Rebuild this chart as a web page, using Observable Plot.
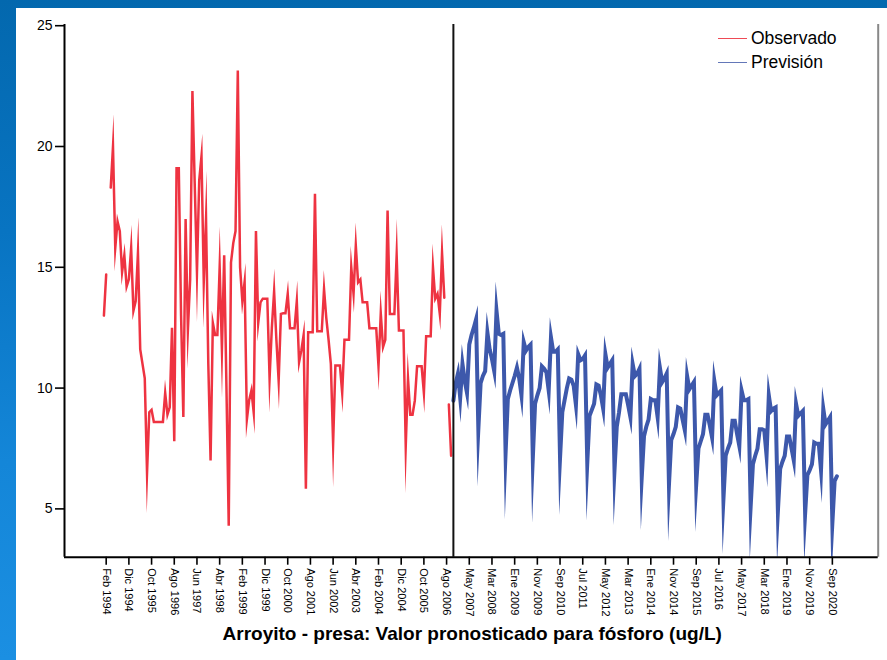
<!DOCTYPE html>
<html lang="es">
<head>
<meta charset="utf-8">
<title>Arroyito - presa: fósforo</title>
<script src="https://cdn.jsdelivr.net/npm/d3@7"></script>
<script src="https://cdn.jsdelivr.net/npm/@observablehq/plot@0.6"></script>
<style>
  html, body { margin: 0; padding: 0; overflow: hidden; }
  body {
    width: 887px; height: 660px; position: relative;
    font-family: Arial, "Liberation Sans", sans-serif;
    background: linear-gradient(to bottom, #0368ae 0%, #0874c2 35%, #1486d8 70%, #1b8fe2 100%);
  }
  #panel {
    position: absolute; left: 16px; top: 8px; width: 871px; height: 652px;
    background: #fff;
  }
  #chart { position: absolute; left: 0; top: 0; }
  #titulo {
    position: absolute; left: 456.2px; top: 616px; transform: translateX(-50%);
    white-space: nowrap; font-weight: bold; font-size: 19px; line-height: 1; color: #000;
  }
  .ley { position: absolute; font-size: 17.5px; color: #000; white-space: nowrap; }
  .ley span.trazo { position: absolute; width: 29px; height: 0; }
</style>
</head>
<body>
<div id="panel">
  <div id="chart"></div>
  <div class="ley" style="left:735px; top:20px;"><span class="trazo" style="left:-33px; top:10px; border-top:1.6px solid #ee4a55;"></span>Observado</div>
  <div class="ley" style="left:735px; top:44px;"><span class="trazo" style="left:-33px; top:10px; border-top:1.6px solid #6377b8;"></span>Previsión</div>
  <div id="titulo">Arroyito - presa: Valor pronosticado para fósforo (ug/L)</div>
</div>
<script>
// Serie observada de fósforo (ug/L), un valor por caso mensual; null = sin dato.
const inicioObservado = -1;
const observado = [
  13.0, 14.7, null, 18.3, 20.0, 15.8, 16.9, 16.5, 14.8, 15.5,
  14.2, 14.5, 15.8, 13.2, 13.6, 15.6, 11.6, 11.0, 10.4, 6.5,
  9.0, 9.1, 8.6, 8.6, 8.6, 8.6, 8.6, 9.8, 8.9, 9.2,
  12.5, 7.8, 19.1, 19.1, 13.0, 8.8, 17.0, 12.4, 14.5, 22.3,
  18.5, 14.8, 18.6, 19.6, 14.4, 17.0, 11.0, 7.0, 12.7, 12.2,
  12.2, 15.0, 11.6, 15.5, 10.0, 4.3, 15.2, 16.0, 16.5, 23.15,
  15.0, 13.6, 14.4, 8.7, 9.5, 9.9, 9.0, 16.5, 12.7, 13.55,
  13.7, 13.7, 13.7, 10.4, 12.5, 14.0, 12.0, 10.3, 13.07, 13.1,
  13.1, 13.9, 12.48, 12.48, 12.48, 13.6, 11.07, 11.56, 12.2, 5.83,
  12.31, 12.31, 12.31, 18.04, 12.35, 12.35, 12.35, 14.1, 12.9, 12.0,
  11.0, 7.7, 10.93, 10.93, 10.93, 9.8, 12.0, 12.0, 12.0, 15.0,
  13.9, 15.9, 14.38, 14.5, 13.55, 13.55, 13.55, 12.48, 12.48, 12.48,
  12.48, 10.9, 13.1, 11.7, 12.0, 17.35, 13.07, 13.07, 13.07, 15.5,
  12.38, 12.38, 12.38, 7.6, 10.4, 8.9, 8.9, 9.48, 10.9, 10.9,
  10.9, 9.8, 12.15, 12.15, 12.15, 15.0, 13.7, 13.9, 13.07, 15.6,
  13.74, null, 9.32, 7.2
];

// Valores pronosticados, desde el caso 153 en adelante.
const inicioPrevision = 153;
const prevision = [
  9.48, 10.2, 10.6, 9.6, 11.0, 10.3, 9.8, 11.8, 12.2, 12.5,
  12.85, 8.3, 10.2, 10.5, 10.7, 12.3, 11.6, 11.2, 10.7, 13.2,
  12.25, 12.2, 12.25, 7.3, 9.55, 9.9, 10.2, 10.5, 10.85, 10.4,
  9.7, 11.9, 11.55, 11.7, 11.8, 7.1, 9.35, 9.7, 10.0, 10.9,
  10.8, 10.65, 9.9, 12.1, 11.5, 11.5, 11.6, 7.1, 9.0, 9.5,
  10.0, 10.4, 10.35, 10.1, 9.3, 11.4, 11.15, 11.2, 11.35, 6.9,
  8.85, 9.1, 9.35, 10.15, 10.1, 9.7, 9.15, 11.4, 10.85, 11.0,
  11.15, 6.6, 8.4, 9.0, 9.75, 9.75, 9.75, 9.3, 8.8, 11.0,
  10.5, 10.6, 10.8, 6.3, 8.0, 8.4, 8.7, 9.55, 9.5, 9.5,
  8.8, 10.85, 10.25, 10.4, 10.6, 6.0, 7.85, 8.1, 8.4, 9.2,
  9.15, 8.7, 8.25, 10.5, 9.95, 10.1, 10.25, 6.0, 7.5, 7.8,
  8.1, 8.9, 8.9, 8.45, 7.95, 10.3, 9.7, 9.8, 9.9, 5.4,
  7.2, 7.5, 7.75, 8.65, 8.65, 8.1, 7.6, 9.9, 9.5, 9.5,
  9.55, 5.1, 6.85, 7.2, 7.5, 8.3, 8.3, 8.25, 7.2, 9.7,
  9.05, 9.15, 9.2, 4.9, 6.65, 6.95, 7.2, 8.0, 8.0, 7.5,
  7.0, 9.35, 8.85, 8.95, 9.05, 4.8, 6.4, 6.6, 6.85, 7.75,
  7.7, 7.7, 6.6, 9.15, 8.5, 8.65, 8.8, 4.4, 6.15, 6.35
];

// Etiquetas de fecha del eje X, una cada 10 casos a partir del caso 0.
const pasoEtiquetas = 10;
const etiquetasFecha = [
  "Feb 1994", "Dic 1994", "Oct 1995", "Ago 1996", "Jun 1997", "Abr 1998",
  "Feb 1999", "Dic 1999", "Oct 2000", "Ago 2001", "Jun 2002", "Abr 2003",
  "Feb 2004", "Dic 2004", "Oct 2005", "Ago 2006", "May 2007", "Mar 2008",
  "Ene 2009", "Nov 2009", "Sep 2010", "Jul 2011", "May 2012", "Mar 2013",
  "Ene 2014", "Nov 2014", "Sep 2015", "Jul 2016", "May 2017", "Mar 2018",
  "Ene 2019", "Nov 2019", "Sep 2020"
];
const ticksY = [5, 10, 15, 20, 25];

// Dominios de los ejes.
const dominioX = [-18.37, 340.2];
const dominioY = [3.0, 25.05];

const rojo = "#ee3341";
const azul = "#3d58ab";

const datosObservado = observado.map((v, k) => ({caso: inicioObservado + k, valor: v}));
const datosPrevision = prevision.map((v, k) => ({caso: inicioPrevision + k, valor: v}));
const ticksX = etiquetasFecha.map((_, k) => k * pasoEtiquetas);

const grafico = Plot.plot({
  width: 871,
  height: 612,
  marginLeft: 48,
  marginRight: 9.3,
  marginTop: 16,
  marginBottom: 63.3,
  x: {domain: dominioX},
  y: {domain: dominioY},
  style: {
    fontFamily: "Arial, 'Liberation Sans', sans-serif",
    color: "#000",
    background: "transparent",
    overflow: "visible"
  },
  marks: [
    Plot.axisY({
      ticks: ticksY, tickSize: 9, tickPadding: 3, fontSize: 14,
      label: null, strokeWidth: 1.6
    }),
    Plot.axisX({
      ticks: ticksX,
      tickFormat: (d) => etiquetasFecha[Math.round(d / pasoEtiquetas)],
      tickRotate: 90, tickSize: 8, tickPadding: 3, fontSize: 11,
      label: null, strokeWidth: 1.6
    }),
    Plot.lineY(datosObservado, {
      x: "caso", y: "valor", stroke: rojo, strokeWidth: 2.5,
      strokeLinejoin: "miter", strokeMiterlimit: 40, clip: true
    }),
    Plot.lineY(datosPrevision, {
      x: "caso", y: "valor", stroke: azul, strokeWidth: 4,
      strokeLinejoin: "miter", strokeMiterlimit: 40, clip: true
    }),
    // Separación entre el periodo observado y el pronosticado.
    Plot.ruleX([inicioPrevision], {stroke: "#111", strokeWidth: 2}),
    // Bordes del área de trazado.
    Plot.ruleX([dominioX[1]], {stroke: "#888", strokeWidth: 2}),
    Plot.ruleX([dominioX[0]], {stroke: "#000", strokeWidth: 2}),
    Plot.ruleY([dominioY[0]], {stroke: "#000", strokeWidth: 2})
  ]
});

document.getElementById("chart").appendChild(grafico);
</script>
</body>
</html>
